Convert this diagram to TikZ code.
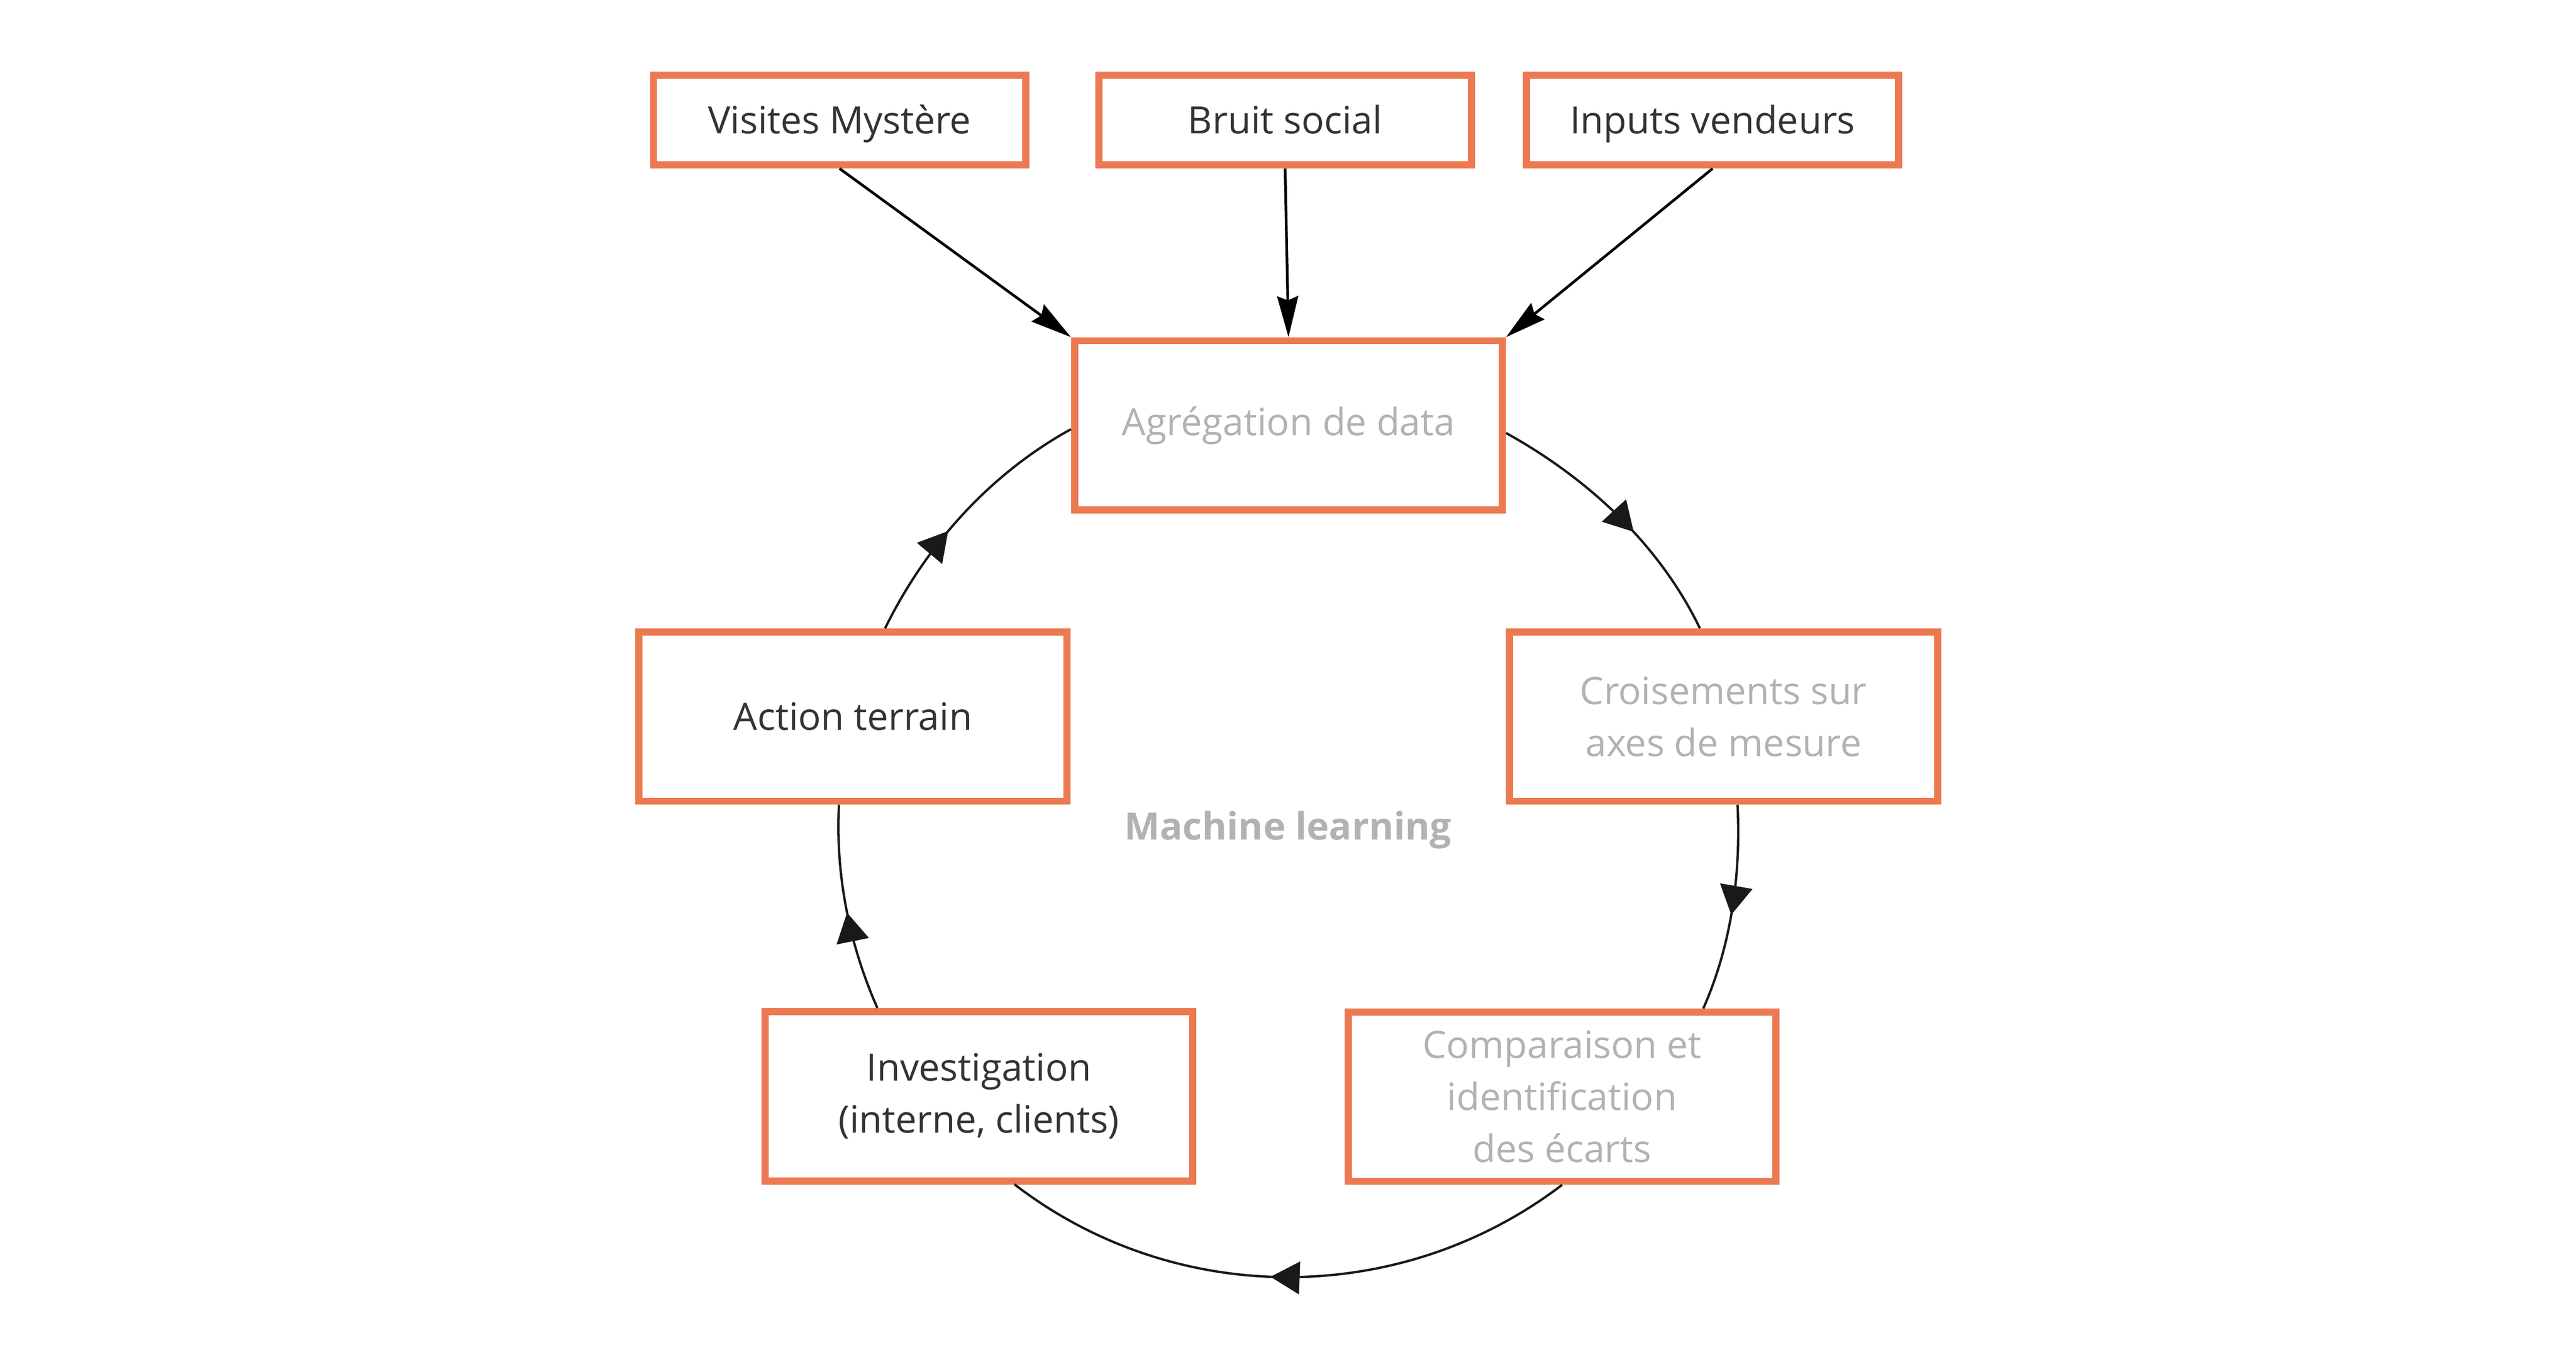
\documentclass[tikz,border=0pt]{standalone}
\usepackage{fontspec}
\setmainfont{Open Sans}
\usepackage{xcolor}
\usetikzlibrary{arrows.meta, decorations.markings}
\definecolor{boxorange}{RGB}{237,121,81}
\definecolor{txtgray}{RGB}{51,51,51}
\definecolor{blurgray}{RGB}{178,178,178}

\begin{document}
\begin{tikzpicture}[
		src/.style={draw=boxorange, line width=0.15cm, minimum width=7.8cm, minimum height=1.88cm, inner sep=0pt, text height=16.1pt, text depth=0pt, text=txtgray, font=\fontsize{22.5}{31}\selectfont},
		stage/.style={draw=boxorange, line width=0.15cm, minimum width=8.97cm, minimum height=3.55cm, inner sep=0pt, align=center, text=txtgray, font=\fontsize{22.5}{31}\selectfont},
		blurred/.style={text=blurgray},
		feed/.style={-{Stealth[length=0.86cm,width=0.44cm,inset=0.09cm]}, line width=1.6pt, draw=black},
		flowarc/.style={line width=1.4pt, draw=black!90, decoration={markings, mark=at position #1 with {\arrow{Triangle[length=0.61cm,width=0.68cm]}}}, postaction={decorate}},
		flowarc/.default=0.53]
		\useasboundingbox (0,0) rectangle (54,28.3);
		\draw (17.60,25.78) node[src] (visites) {Visites Mystère}
		(26.94,25.78) node[src] (bruit) {Bruit social}
		(35.90,25.78) node[src] (inputs) {Inputs vendeurs}
		(27.01,19.38) node[stage, blurred] (agreg) {Agrégation de data}
		(36.13,13.275) node[stage, blurred] (crois) {Croisements sur\\axes de mesure}
		(32.745,5.305) node[stage, blurred] (comp) {Comparaison et\\identification\\des écarts}
		(20.52,5.315) node[stage] (inv) {Investigation\\(interne, clients)}
		(17.88,13.275) node[stage] (action) {Action terrain}
		(27.00,10.90) node[blurred, font=\fontsize{22.5}{31}\selectfont\bfseries] (ml) {Machine learning};
		
		\draw[feed] (visites.south) -- (agreg.north west);
		\draw[feed] (bruit.south) -- (agreg.north);
		\draw[feed] (inputs.south) -- (agreg.north east);
		\draw[flowarc=0.58] (agreg.-2.4) to[out=-29,in=115.8,looseness=0.87] (crois.105.2);
		\draw[flowarc=0.53] (crois.-81.4) to[out=-87.1,in=66.1,looseness=0.86] (comp.32.5);
		\draw[flowarc=0.53] (comp.south) to[out=-142.7,in=-37.6,looseness=0.95] (inv.-68.2);
		\draw[flowarc=0.48] (inv.139.5) to[out=113.9,in=-93,looseness=0.86] (action.-99);
		\draw[flowarc=0.42] (action.70.3) to[out=63.8,in=-151.1,looseness=0.87] (agreg.181.9);
	\end{tikzpicture}
\end{document}
